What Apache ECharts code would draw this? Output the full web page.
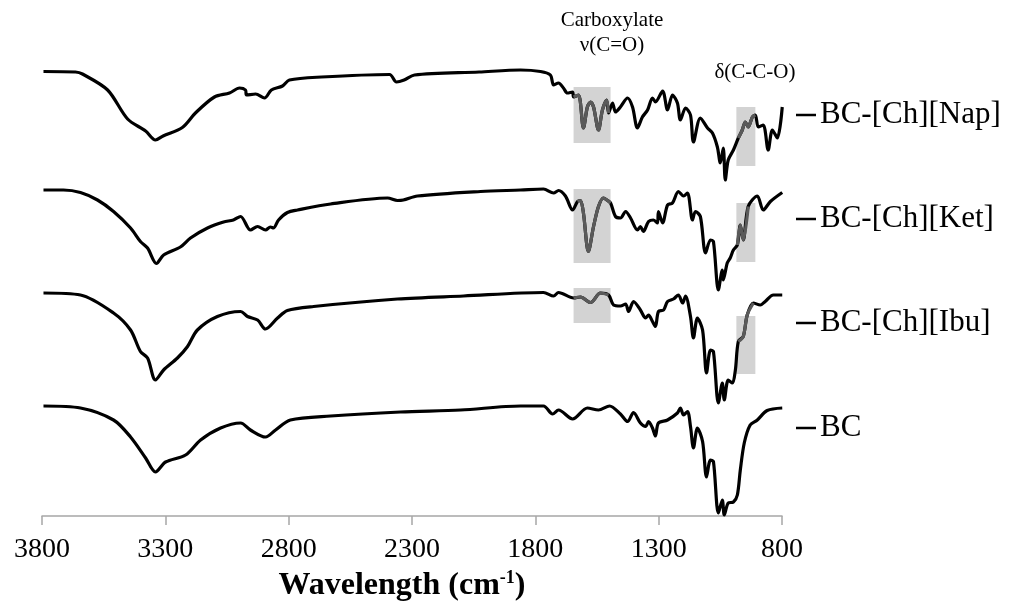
<!DOCTYPE html>
<html>
<head>
<meta charset="utf-8">
<script src="https://cdn.jsdelivr.net/npm/echarts@6/dist/echarts.min.js"></script>
<style>
  html, body { margin: 0; padding: 0; background: #fff; }
  #chart { width: 1021px; height: 611px; }
</style>
</head>
<body>
<div id="chart"></div>
<script>
// wavenumber (cm-1) / offset transmittance pairs
const nap = [
  [3794, 88.9], [3664, 88.8], [3636, 88.4], [3534, 85.2], [3453, 79.4], [3380, 77.0], [3340, 75.2],
  [3309, 76.0], [3231, 77.7], [3178, 80.6], [3101, 83.8], [3040, 84.6], [2999, 85.6], [2975, 85.2],
  [2971, 84.2], [2934, 84.4], [2898, 83.6], [2870, 85.2], [2825, 86.0], [2797, 87.2], [2667, 87.8],
  [2391, 88.3], [2363, 86.8], [2332, 87.2], [2290, 88.2], [2028, 88.8], [1860, 89.2], [1779, 88.9],
  [1739, 88.2], [1726, 86.2], [1706, 86.6], [1686, 85.6], [1670, 84.6], [1649, 84.8], [1645, 83.8],
  [1625, 84.2], [1605, 77.6], [1589, 81.8], [1576, 82.8], [1564, 81.8], [1544, 77.2], [1528, 81.2],
  [1511, 83.2], [1503, 80.6], [1487, 82.6], [1475, 80.8], [1455, 81.8], [1426, 83.6], [1406, 81.8],
  [1386, 77.6], [1366, 79.8], [1345, 81.2], [1325, 83.6], [1313, 82.8], [1284, 85.0], [1264, 81.2],
  [1244, 84.2], [1224, 82.6], [1212, 79.2], [1191, 81.6], [1171, 80.2], [1159, 74.8], [1131, 79.6],
  [1102, 77.6], [1082, 76.6], [1062, 73.8], [1050, 70.6], [1038, 73.6], [1030, 67.2], [1018, 71.2],
  [997, 73.2], [977, 75.6], [961, 77.2], [949, 78.8], [937, 77.8], [920, 79.8], [908, 80.2],
  [896, 77.8], [876, 78.2], [856, 73.2], [839, 77.2], [819, 75.6], [799, 81.8]
];
const ket = [
  [3794, 65.2], [3713, 65.2], [3644, 64.7], [3575, 63.2], [3510, 60.9], [3441, 57.6], [3401, 54.9],
  [3372, 53.6], [3336, 50.5], [3307, 52.2], [3239, 53.8], [3198, 55.6], [3129, 57.6], [3064, 58.8],
  [3024, 59.2], [2995, 59.9], [2955, 57.2], [2926, 57.9], [2894, 57.2], [2874, 57.8], [2862, 57.6],
  [2841, 59.2], [2805, 60.7], [2764, 61.2], [2630, 62.4], [2399, 63.6], [2359, 63.1], [2335, 63.2],
  [2278, 64.0], [2022, 64.9], [1860, 65.2], [1767, 65.4], [1726, 64.6], [1706, 65.1], [1678, 64.0],
  [1649, 61.2], [1629, 62.9], [1617, 63.1], [1605, 60.6], [1585, 52.9], [1564, 57.9], [1544, 61.9],
  [1524, 63.6], [1507, 63.1], [1495, 62.6], [1475, 59.9], [1455, 59.6], [1434, 60.9], [1414, 59.6],
  [1386, 57.2], [1374, 57.9], [1362, 56.9], [1341, 58.9], [1321, 59.2], [1305, 58.6], [1301, 60.9],
  [1284, 58.6], [1264, 62.2], [1244, 62.6], [1220, 64.9], [1199, 64.0], [1183, 64.6], [1163, 59.2],
  [1151, 60.9], [1131, 59.9], [1110, 52.6], [1090, 55.2], [1078, 54.9], [1058, 45.2], [1042, 49.2],
  [1038, 47.2], [1022, 50.6], [1010, 51.6], [997, 53.2], [981, 54.2], [969, 58.2], [957, 55.2],
  [937, 61.9], [900, 64.0], [876, 61.2], [847, 62.9], [799, 64.7]
];
const ibu = [
  [3794, 44.6], [3644, 44.2], [3510, 40.6], [3441, 37.2], [3401, 32.9], [3372, 31.6], [3340, 27.2],
  [3307, 29.2], [3251, 31.6], [3210, 33.9], [3170, 37.2], [3089, 39.9], [2995, 40.9], [2967, 39.9],
  [2926, 39.2], [2894, 37.4], [2845, 39.6], [2805, 41.1], [2699, 41.9], [2359, 43.4], [2091, 44.0],
  [1767, 44.7], [1726, 44.0], [1706, 44.7], [1645, 43.6], [1617, 43.8], [1576, 42.7], [1536, 44.6],
  [1503, 44.2], [1483, 42.2], [1455, 42.0], [1434, 42.4], [1422, 40.9], [1402, 42.9], [1374, 41.2],
  [1353, 39.6], [1341, 40.2], [1325, 38.9], [1313, 37.9], [1301, 40.9], [1280, 41.2], [1264, 42.9],
  [1240, 43.4], [1220, 44.2], [1203, 42.6], [1191, 44.0], [1171, 39.9], [1159, 35.6], [1143, 39.6],
  [1122, 37.2], [1106, 28.6], [1090, 33.2], [1078, 32.9], [1058, 22.6], [1042, 26.6], [1034, 23.2],
  [1018, 27.2], [1001, 26.6], [989, 29.2], [977, 34.9], [957, 35.9], [941, 40.2], [916, 42.6],
  [888, 42.2], [868, 42.9], [835, 44.2], [799, 44.2]
];
const bc = [
  [3794, 22.0], [3644, 21.6], [3510, 19.2], [3441, 15.8], [3380, 11.6], [3340, 8.8], [3299, 10.8],
  [3218, 12.2], [3157, 15.2], [3076, 17.6], [2995, 18.6], [2955, 17.2], [2894, 15.8], [2853, 17.2],
  [2793, 19.2], [2630, 20.0], [2347, 20.8], [2103, 21.2], [1860, 22.0], [1767, 22.0], [1730, 20.4],
  [1706, 21.2], [1649, 19.4], [1589, 21.6], [1544, 21.2], [1499, 22.0], [1455, 20.4], [1426, 18.9],
  [1402, 20.7], [1374, 18.6], [1353, 17.9], [1341, 18.9], [1325, 17.6], [1313, 16.0], [1301, 18.6],
  [1264, 19.2], [1224, 20.6], [1212, 21.6], [1199, 20.2], [1183, 20.9], [1171, 17.9], [1159, 13.6],
  [1143, 17.6], [1122, 14.9], [1106, 7.8], [1090, 11.2], [1078, 10.9], [1058, 0.6], [1042, 3.2],
  [1034, 0.2], [1018, 2.6], [997, 2.8], [981, 4.2], [969, 9.2], [953, 14.6], [929, 18.2],
  [900, 19.2], [860, 21.1], [799, 21.6]
];

const seriesNames = ['BC-[Ch][Nap]', 'BC-[Ch][Ket]', 'BC-[Ch][Ibu]', 'BC'];
const xTicks = [800, 1300, 1800, 2300, 2800, 3300, 3800];

// highlighted bands: [high cm-1, low cm-1] and box [top, bottom] per trace
const carboxylBand = [1645, 1495];
const cco = [985, 908];
const napBoxes = [[85.8, 74.6], [81.8, 70.0]];
const ketBoxes = [[65.4, 50.6], [62.6, 50.8]];
const ibuBoxes = [[45.6, 38.6], [40.0, 28.4]];

const serif = '"Liberation Serif", "Times New Roman", serif';

const chart = echarts.init(document.getElementById('chart'));

function band(data, range) {
  return data.filter(p => p[0] <= range[0] && p[0] >= range[1]);
}

function grayPart(data, range, box) {
  return {
    type: 'line',
    data: band(data, range),
    symbol: 'none',
    smooth: 0.3,
    z: 4,
    lineStyle: { color: '#5a5a5a', width: 3.2 },
    markArea: {
      silent: true,
      z: 1,
      itemStyle: { color: '#d3d3d3' },
      data: [[{ xAxis: range[0], yAxis: box[0] }, { xAxis: range[1], yAxis: box[1] }]]
    }
  };
}

function trace(name, data) {
  return {
    name: name,
    type: 'line',
    data: data,
    symbol: 'none',
    smooth: 0.3,
    z: 3,
    lineStyle: { color: '#000', width: 3.2 }
  };
}

const series = [
  trace(seriesNames[0], nap),
  trace(seriesNames[1], ket),
  trace(seriesNames[2], ibu),
  trace(seriesNames[3], bc),
  grayPart(nap, carboxylBand, napBoxes[0]),
  grayPart(nap, cco, napBoxes[1]),
  grayPart(ket, carboxylBand, ketBoxes[0]),
  grayPart(ket, cco, ketBoxes[1]),
  grayPart(ibu, carboxylBand, ibuBoxes[0]),
  grayPart(ibu, cco, ibuBoxes[1])
];

// legend-like labels on the right
const labelY = [115, 219, 323, 428];
const graphics = [];
seriesNames.forEach((n, i) => {
  graphics.push({
    type: 'line',
    shape: { x1: 796, y1: labelY[i], x2: 816, y2: labelY[i] },
    style: { stroke: '#000', lineWidth: 2.5 }
  });
  graphics.push({
    type: 'text',
    x: 820, y: labelY[i],
    style: { text: n, font: '31px ' + serif, fill: '#000', textVerticalAlign: 'middle' }
  });
});
graphics.push({
  type: 'text', x: 612, y: 20,
  style: { text: 'Carboxylate', font: '21px ' + serif, fill: '#000', textAlign: 'center', textVerticalAlign: 'middle' }
});
graphics.push({
  type: 'text', x: 612, y: 45,
  style: { text: 'ν(C=O)', font: '21px ' + serif, fill: '#000', textAlign: 'center', textVerticalAlign: 'middle' }
});
graphics.push({
  type: 'text', x: 755, y: 72,
  style: { text: 'δ(C-C-O)', font: '21px ' + serif, fill: '#000', textAlign: 'center', textVerticalAlign: 'middle' }
});

const option = {
  animation: false,
  backgroundColor: '#fff',
  grid: { left: 42, right: 239, top: 61, bottom: 95, containLabel: false },
  xAxis: {
    type: 'value',
    inverse: true,
    min: 800,
    max: 3800,
    name: '{b|Wavelength (cm}{s|-1}{b|)}',
    nameLocation: 'middle',
    nameGap: 52,
    nameTextStyle: {
      padding: [0, 20, 0, 0],
      rich: {
        b: { fontFamily: serif, fontWeight: 'bold', fontSize: 32, color: '#000' },
        s: { fontFamily: serif, fontWeight: 'bold', fontSize: 18, color: '#000', verticalAlign: 'top', padding: [0, 0, 16, 0] }
      }
    },
    axisLine: { show: true, lineStyle: { color: '#a6a6a6', width: 1.5 } },
    axisTick: { show: true, length: 9, lineStyle: { color: '#a6a6a6', width: 1.5 }, customValues: xTicks },
    axisLabel: {
      customValues: xTicks,
      formatter: v => String(v),
      fontFamily: serif, fontSize: 28, color: '#000', margin: 20
    },
    splitLine: { show: false }
  },
  yAxis: {
    type: 'value',
    min: 0,
    max: 91,
    show: false,
    splitLine: { show: false }
  },
  series: series,
  graphic: graphics
};

chart.setOption(option);
</script>
</body>
</html>
